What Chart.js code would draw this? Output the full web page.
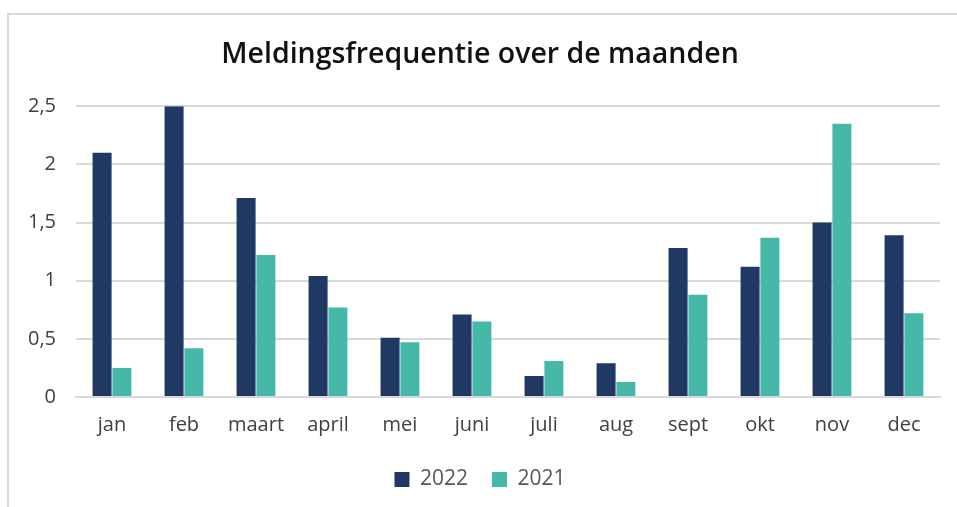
<!DOCTYPE html>
<html>
<head>
<meta charset="utf-8">
<script src="https://cdn.jsdelivr.net/npm/chart.js@4/dist/chart.umd.min.js"></script>
<style>
body{margin:0;background:#fff;}
#frame{position:absolute;left:7px;top:13px;width:1000px;height:600px;border-left:2px solid #d9d9d9;border-top:2px solid #d9d9d9;}
#wrap{position:absolute;left:0;top:0;width:957px;height:507px;}
</style>
</head>
<body>
<div id="frame"></div>
<div id="wrap"><canvas id="chart"></canvas></div>
<script>
let months=['jan','feb','maart','april','mei','juni','juli','aug','sept','okt','nov','dec'];
let values2022=[2.1,2.5,1.71,1.04,0.51,0.71,0.18,0.29,1.28,1.12,1.5,1.39];
let values2021=[0.25,0.42,1.22,0.77,0.47,0.65,0.31,0.13,0.88,1.37,2.35,0.72];
let yTicks=[0,0.5,1,1.5,2,2.5];

let font='Open Sans';
new Chart('chart',{
    type:'bar',
    data:{
        labels:months,
        datasets:[
            {label:'2022',data:values2022,backgroundColor:'#203864',barPercentage:0.96,categoryPercentage:0.55},
            {label:'2021',data:values2021,backgroundColor:'#45b8a8',barPercentage:0.96,categoryPercentage:0.55}
        ]
    },
    options:{
        responsive:true,
        maintainAspectRatio:false,
        animation:false,
        layout:{padding:{left:20,right:17,top:38,bottom:7}},
        plugins:{
            title:{display:true,text:'Meldingsfrequentie over de maanden',color:'#111',
                font:{family:font,size:28.5,weight:'600'},padding:{top:0,bottom:34}},
            legend:{position:'bottom',labels:{color:'#595959',font:{family:font,size:21},
                boxWidth:15,boxHeight:15,padding:24}},
            tooltip:{enabled:false}
        },
        scales:{
            x:{grid:{display:false},border:{color:'#d9d9d9',width:2},
                ticks:{color:'#404040',font:{family:font,size:20},padding:8}},
            y:{min:0,max:2.5,
                afterBuildTicks:function(s){s.ticks=yTicks.map(function(v){return {value:v};});},
                afterFit:function(s){s.width=56;},
                grid:{color:'#d9d9d9',lineWidth:2,drawTicks:false},border:{display:false},
                ticks:{color:'#404040',font:{family:font,size:20},padding:20,
                    callback:function(v){return String(v).replace('.',',');}}}
        }
    }
});
</script>
</body>
</html>
